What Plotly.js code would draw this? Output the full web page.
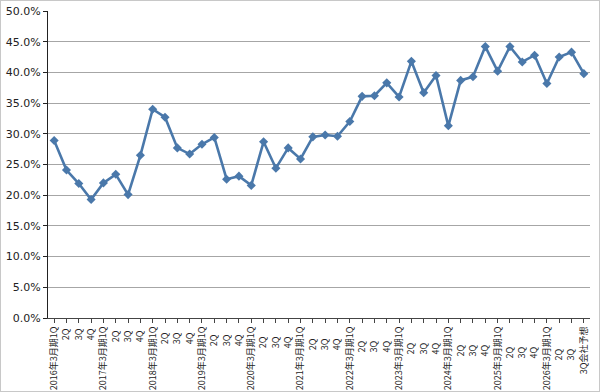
<!DOCTYPE html>
<html>
<head>
<meta charset="utf-8">
<script src="https://cdn.plot.ly/plotly-3.0.1.min.js"></script>
<style>
html,body{margin:0;padding:0;background:#fff;}
#chart{width:600px;height:392px;box-sizing:border-box;border:1px solid #c8c8c8;}
</style>
</head>
<body>
<div id="chart"></div>
<script>
const categories = [
  "2016年3月期1Q","2Q ","3Q ","4Q ",
  "2017年3月期1Q","2Q  ","3Q  ","4Q  ",
  "2018年3月期1Q","2Q   ","3Q   ","4Q   ",
  "2019年3月期1Q","2Q    ","3Q    ","4Q    ",
  "2020年3月期1Q","2Q     ","3Q     ","4Q     ",
  "2021年3月期1Q","2Q      ","3Q      ","4Q      ",
  "2022年3月期1Q","2Q       ","3Q       ","4Q       ",
  "2023年3月期1Q","2Q        ","3Q        ","4Q        ",
  "2024年3月期1Q","2Q         ","3Q         ","4Q         ",
  "2025年3月期1Q","2Q          ","3Q          ","4Q          ",
  "2026年3月期1Q","2Q           ","3Q           ","3Q会社予想"
];
const values = [
  28.9, 24.1, 21.9, 19.3,
  22.0, 23.4, 20.1, 26.5,
  34.0, 32.7, 27.7, 26.7,
  28.3, 29.4, 22.6, 23.1,
  21.6, 28.7, 24.4, 27.7,
  25.9, 29.5, 29.8, 29.6,
  32.0, 36.1, 36.2, 38.3,
  36.0, 41.8, 36.7, 39.5,
  31.3, 38.7, 39.3, 44.2,
  40.2, 44.2, 41.7, 42.8,
  38.2, 42.5, 43.3, 39.8
];
const yTickVals = [0,5,10,15,20,25,30,35,40,45,50];

const trace = {
  x: categories,
  y: values,
  type: 'scatter',
  mode: 'lines+markers',
  line: {color: '#4a78aa', width: 2.6},
  marker: {symbol: 'diamond', size: 7, color: '#4a78aa'},
  hoverinfo: 'skip'
};

const layout = {
  width: 598, height: 390,
  margin: {l: 47, r: 9, t: 10, b: 73, pad: 0},
  paper_bgcolor: '#fff',
  plot_bgcolor: '#fff',
  showlegend: false,
  font: {family: '"DejaVu Sans", Verdana, sans-serif', color: '#222'},
  xaxis: {
    type: 'category',
    range: [-0.5, categories.length - 0.5],
    tickangle: -90,
    tickfont: {family: '"Noto Sans CJK JP", "DejaVu Sans", sans-serif', size: 9, color: '#222'},
    showgrid: false,
    showline: true, linecolor: '#444', linewidth: 1,
    ticks: 'outside', ticklen: 4, tickcolor: '#444',
    zeroline: false,
    automargin: false
  },
  yaxis: {
    range: [0, 50],
    tickvals: yTickVals,
    ticktext: yTickVals.map(v => v.toFixed(1) + '%'),
    tickfont: {size: 11, color: '#222'},
    showgrid: true, gridcolor: '#a6a6a6', gridwidth: 1,
    showline: true, linecolor: '#222', linewidth: 1,
    ticks: 'outside', ticklen: 4, tickcolor: '#222',
    zeroline: false,
    automargin: false
  }
};

Plotly.newPlot('chart', [trace], layout, {displayModeBar: false, staticPlot: true});
</script>
</body>
</html>
